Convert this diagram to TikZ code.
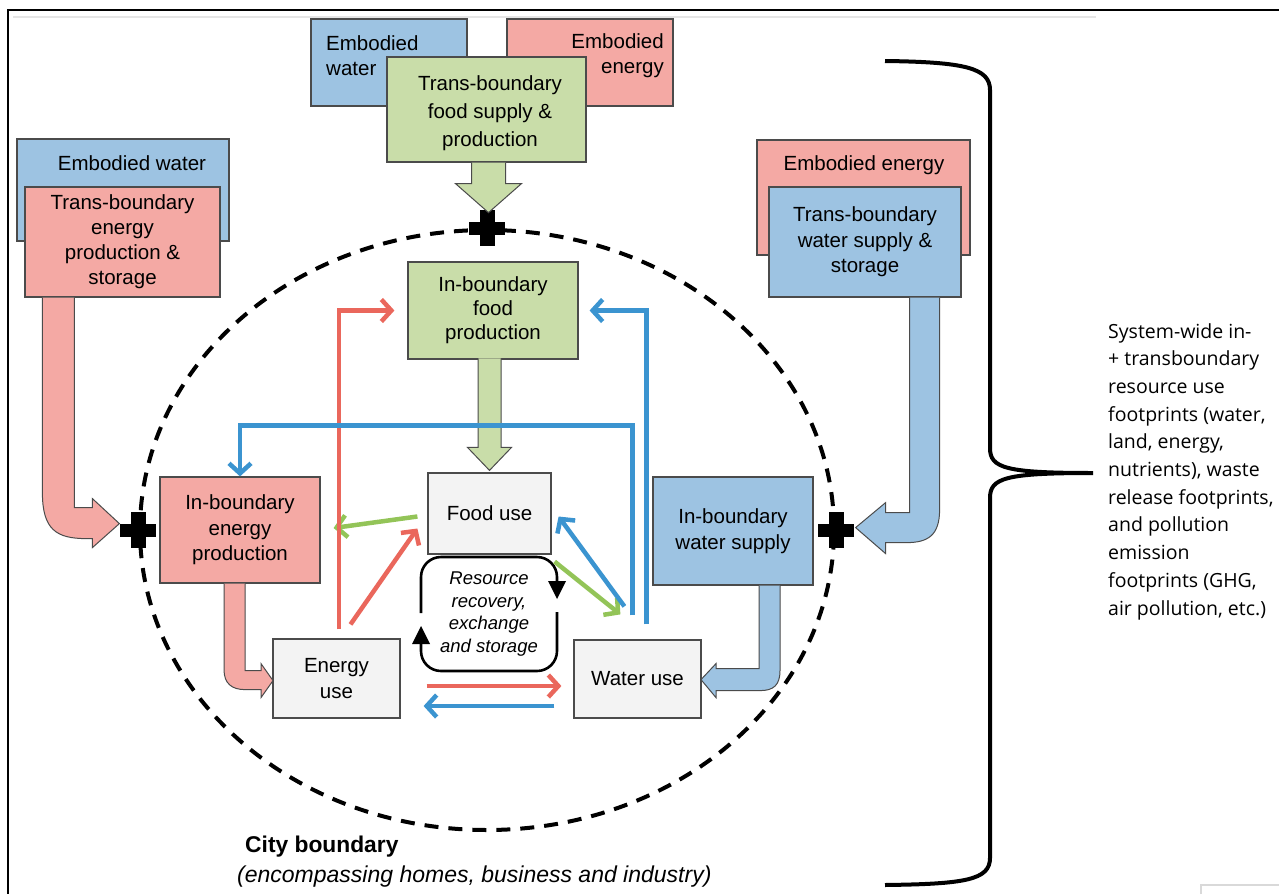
\documentclass[tikz,border=0pt]{standalone}
\usepackage{fontspec}
\setmainfont{Liberation Sans}
\newfontfamily\notefont{Open Sans}
\usetikzlibrary{arrows.meta,shapes.geometric,calc}

\definecolor{pinkfill}{RGB}{244,169,164}
\definecolor{bluefill}{RGB}{157,195,226}
\definecolor{greenfill}{RGB}{201,221,169}
\definecolor{greyfill}{RGB}{243,243,243}
\definecolor{boxline}{RGB}{75,75,75}
\definecolor{redline}{RGB}{234,103,92}
\definecolor{blueline}{RGB}{59,148,208}
\definecolor{greenline}{RGB}{147,196,88}

\tikzset{
  box/.style={draw=boxline, line width=1.2pt, inner sep=0pt, align=center,
    font=\fontsize{20.5}{25.5}\selectfont},
  pinkbox/.style={box, fill=pinkfill},
  bluebox/.style={box, fill=bluefill},
  greenbox/.style={box, fill=greenfill},
  greybox/.style={box, fill=greyfill},
  boxtext/.style={inner sep=0pt, font=\fontsize{20.5}{25.5}\selectfont},
  blockarrow/.style={draw=boxline, line width=1pt},
  flow/.style={line width=4.5pt, -{Straight Barb[length=10pt,width=22pt]}},
  redflow/.style={flow, draw=redline},
  blueflow/.style={flow, draw=blueline},
  greenflow/.style={flow, draw=greenline},
  loopline/.style={line width=2.6pt, rounded corners=20pt},
  plussign/.pic={
    \fill[black] (-18,-6.5) rectangle (18,6.5);
    \fill[black] (-7.5,-18) rectangle (7.5,18);
  }
}

\begin{document}
\begin{tikzpicture}[x=1pt,y=-1pt]
\useasboundingbox (0,0) rectangle (1279,894);

% frame of the sheet
\draw[line width=1.3pt] (7,10) -- (1279,10);
\draw[line width=1.3pt] (8,10) -- (8,894);
\draw[line width=1.5pt, black!10] (13,17) -- (1096,17);
\draw[line width=1.2pt, black!15] (1201,894) -- (1201,885) -- (1279,885);

% city boundary
\node[ellipse, draw, line width=4pt, dash pattern=on 14pt off 10pt,
      minimum width=694pt, minimum height=600pt, inner sep=0pt] (city) at (487,530) {};

% trans-boundary food supply (top)
\node[bluebox, minimum width=156pt, minimum height=87pt] (ewT) at (389,62.5) {};
\node[boxtext, anchor=west, align=left] (ewTtxt) at (326,55.5) {Embodied\\water};
\node[pinkbox, minimum width=166pt, minimum height=87pt] (eeT) at (590,62.5) {};
\node[boxtext, anchor=east, align=right] (eeTtxt) at (664,55.5) {Embodied\\energy};
\node[greenbox, minimum width=199pt, minimum height=105pt] (tfood) at (486.5,109.5) {};
\node[boxtext, align=center, font=\fontsize{20.5}{28}\selectfont] (tfoodtxt) at (490,113.5)
      {Trans-boundary\\food supply \&\\production};

% trans-boundary energy (left)
\node[bluebox, minimum width=212pt, minimum height=102pt] (ewL) at (123,190) {};
\node[boxtext] (ewLtxt) at (132,163) {Embodied water};
\node[pinkbox, minimum width=195pt, minimum height=110pt,
      font=\fontsize{20.5}{25}\selectfont] (tenergy) at (122.5,242)
      {Trans-boundary\\energy\\production \&\\storage};

% trans-boundary water (right)
\node[pinkbox, minimum width=213pt, minimum height=115pt] (eeR) at (863.5,197.5) {};
\node[boxtext] (eeRtxt) at (864,165) {Embodied energy};
\node[bluebox, minimum width=192pt, minimum height=110pt] (twater) at (865,242)
      {Trans-boundary\\water supply \&\\storage};

% in-boundary production
\node[greenbox, minimum width=170pt, minimum height=97pt,
      font=\fontsize{20.5}{24}\selectfont] (ifood) at (493,310.5)
      {In-boundary\\food\\production};
\node[pinkbox, minimum width=160pt, minimum height=106pt] (ienergy) at (240,530)
      {In-boundary\\energy\\production};
\node[bluebox, minimum width=160pt, minimum height=108pt] (iwater) at (733,531)
      {In-boundary\\water supply};

% uses
\node[greybox, minimum width=123pt, minimum height=81pt] (fooduse) at (489.5,513.5) {Food use};
\node[greybox, minimum width=127pt, minimum height=79pt] (energyuse) at (336.5,678.5) {Energy\\use};
\node[greybox, minimum width=127pt, minimum height=78pt] (wateruse) at (637.5,679) {Water use};

% resource recovery loop
\node[inner sep=0pt, minimum width=136pt, minimum height=114pt, align=center,
      font=\itshape\fontsize{18.5}{22.5}\selectfont] (rrec) at (489,614)
      {Resource\\recovery,\\exchange\\and storage};
\begin{scope}[shift={(rrec.center)}]
  \draw[loopline] (-68,-1) -- (-68,-57) -- (68,-57) -- (68,-32);
  \fill (59,-33) -- (77,-33) -- (68,-15) -- cycle;
  \draw[loopline] (68,-2) -- (68,57) -- (-68,57) -- (-68,29);
  \fill (-77,30) -- (-59,30) -- (-68,12) -- cycle;
\end{scope}

% boundary crossings
\pic at (city.north) {plussign};
\pic at (city.west) {plussign};
\pic at (city.east) {plussign};

% block arrows
\begin{scope}[shift={(tfood.south)}]
  \filldraw[blockarrow, fill=greenfill] (-15,0) -- (-15,21) -- (-31,21) -- (2,50) -- (35,21) -- (19,21) -- (19,0);
\end{scope}
\begin{scope}[shift={(fooduse.north)}]
  \filldraw[blockarrow, fill=greenfill] (-11.5,-114) -- (-11.5,-25) -- (-22,-25) -- (0,-2) -- (22,-25) -- (11.5,-25) -- (11.5,-114);
\end{scope}
\begin{scope}[shift={(tenergy.south west)}]
  \filldraw[blockarrow, fill=pinkfill] (18,0) -- (18,195) .. controls (18,232) and (32,241) .. (62,241)
    -- (68,241) -- (68,250) -- (95,226) -- (68,201) -- (68,210) -- (50,210) -- (50,0);
\end{scope}
\begin{scope}[shift={(twater.south east)}]
  \filldraw[blockarrow, fill=bluefill] (-22,0) -- (-22,212) .. controls (-22,238) and (-34,245) .. (-55,245)
    -- (-76,245) -- (-76,256) -- (-106,230) -- (-76,205) -- (-76,215) -- (-52,215) -- (-52,0);
\end{scope}
\begin{scope}[shift={(ienergy.south)}]
  \filldraw[blockarrow, fill=pinkfill] (-16,0) -- (-16,86) .. controls (-16,100) and (-8,106) .. (5,106)
    -- (21,106) -- (21,114) -- (33,97) -- (21,80) -- (21,87) -- (5,87) -- (5,0);
\end{scope}
\begin{scope}[shift={(iwater.south)}]
  \filldraw[blockarrow, fill=bluefill] (47,0) -- (47,85) .. controls (47,100) and (40,105) .. (27,105)
    -- (-17,105) -- (-17,112) -- (-32,94) -- (-17,78) -- (-17,83) -- (26,83) -- (26,0);
\end{scope}

% resource flows between uses and production
\draw[greenflow] ([xshift=-10pt,yshift=-3pt]fooduse.west) -- ([xshift=13pt,yshift=2pt]ienergy.east);
\draw[redflow] ([xshift=2.5pt,yshift=9pt]energyuse.north) |- ([xshift=-13pt]ifood.west);
\draw[redflow] ([xshift=14pt,yshift=14pt]energyuse.north) -- ([xshift=-10pt,yshift=-15pt]fooduse.west);
\draw[blueflow] ([xshift=-5pt,yshift=24pt]wateruse.north) |- ([yshift=51pt]ienergy.north) -- (ienergy.north);
\draw[blueflow] ([xshift=9pt,yshift=15pt]wateruse.north) |- ([xshift=11pt]ifood.east);
\draw[greenflow] ([xshift=3pt,yshift=-7pt]fooduse.south east) -- ([xshift=47pt,yshift=25pt]wateruse.north west);
\draw[blueflow] ([xshift=51pt,yshift=33pt]wateruse.north west) -- ([xshift=7pt,yshift=-3pt]fooduse.east);
\draw[redflow] ([xshift=26pt,yshift=-7.5pt]energyuse.east) -- ([xshift=-12pt,yshift=-7pt]wateruse.west);
\draw[blueflow] ([xshift=-19pt,yshift=-27pt]wateruse.west) -- ([xshift=23pt,yshift=-27.5pt]energyuse.east);

% city boundary caption
\node[anchor=west, inner sep=0pt, font=\bfseries\fontsize{22.8}{25}\selectfont] (citylbl) at (245,847) {City boundary};
\node[anchor=west, inner sep=0pt, font=\itshape\fontsize{23}{25}\selectfont] (citysub) at (237,877)
      {(encompassing homes, business and industry)};

% system-wide footprint brace
\node[anchor=west, inner sep=0pt, align=left, font=\notefont\fontsize{19.5}{27.7}\selectfont] (note) at (1108,471.5)
  {System-wide in-\\+ transboundary\\resource use\\footprints (water,\\land, energy,\\nutrients), waste\\release footprints,\\and pollution\\emission\\footprints (GHG,\\air pollution, etc.)};
\coordinate (bracetip) at (1093,473);
\draw[line width=4pt] (885,61) .. controls (965,62) and (990,68) .. (990,90) -- (990,448)
   .. controls (990,468) and (1005,473) .. (bracetip)
   .. controls (1005,473) and (990,478) .. (990,498) -- (990,858)
   .. controls (990,880) and (965,884) .. (885,885);
\end{tikzpicture}
\end{document}
